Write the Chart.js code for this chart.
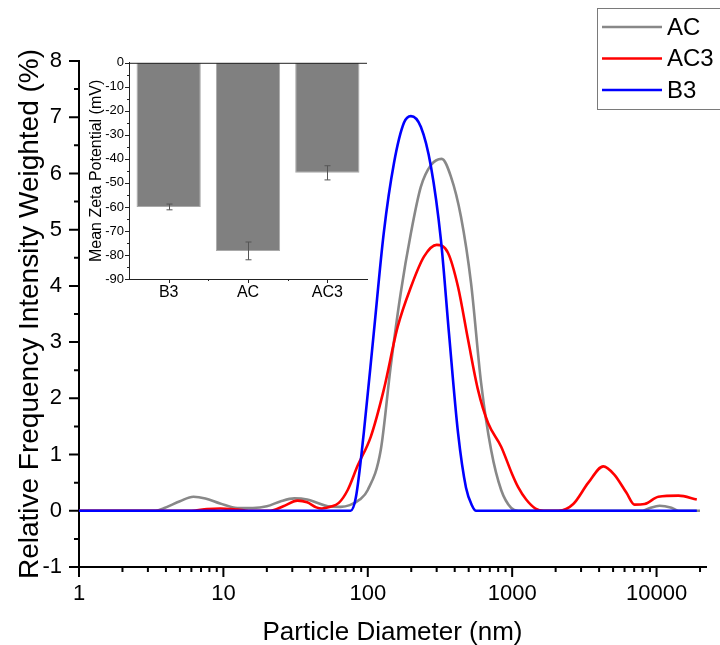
<!DOCTYPE html>
<html lang="en">
<head>
    <meta charset="UTF-8">
    <title>Particle size distribution with zeta potential inset</title>
    <script src="https://cdn.jsdelivr.net/npm/chart.js"></script>
    <style>
        body {
            margin: 0;
            background: #fff;
            font-family: "Liberation Sans", Arial, sans-serif;
        }
        #wrap {
            position: relative;
            width: 720px;
            height: 645px;
        }
        #inset {
            position: absolute;
            left: 70px;
            top: 50px;
        }
    </style>
</head>
<body>
    <div id="wrap">
        <canvas id="sizeChart" width="720" height="645"></canvas>
        <canvas id="inset" width="310" height="260"></canvas>
    </div>

    <script>
        // size distributions (diameter in nm, intensity in %)
        const acSize  = [1, 3.4, 3.9, 5, 6.2, 7.5, 9.5, 12.5, 16, 20, 25, 31, 38, 45, 53, 65, 75, 88, 100, 123, 144, 169, 199, 233, 274, 325, 377, 442, 519, 609, 715, 839, 984, 1100, 8000, 9000, 10500, 12500, 14200, 20000];
        const acValue = [0, 0, 0.05, 0.17, 0.25, 0.22, 0.13, 0.05, 0.05, 0.08, 0.17, 0.22, 0.2, 0.14, 0.08, 0.07, 0.1, 0.2, 0.37, 1.08, 2.56, 3.87, 4.94, 5.76, 6.15, 6.26, 5.94, 5.23, 4.05, 2.28, 1.08, 0.37, 0.05, 0, 0, 0.05, 0.09, 0.06, 0, 0];

        const ac3Size  = [1, 6, 7.7, 9.5, 12.5, 15, 21, 26, 32.6, 38, 44, 48, 55, 63, 72.6, 85, 105, 129, 161, 199, 245, 300, 359, 422, 495, 580, 681, 839, 1000, 1100, 1250, 1450, 1650, 2100, 2650, 3370, 4280, 5110, 6190, 7040, 8260, 10300, 14200, 19000];
        const ac3Value = [0, 0, 0.03, 0.04, 0.02, 0, 0, 0.08, 0.18, 0.15, 0.06, 0.04, 0.07, 0.14, 0.37, 0.8, 1.32, 2.15, 3.27, 3.98, 4.52, 4.73, 4.59, 3.98, 3.04, 2.15, 1.56, 1.14, 0.65, 0.42, 0.2, 0.04, 0, 0, 0.12, 0.5, 0.79, 0.64, 0.32, 0.11, 0.12, 0.25, 0.27, 0.2];

        const b3Size  = [1, 76, 82.6, 93.8, 110, 129, 152, 178, 199, 233, 274, 321, 365, 422, 479, 530, 562, 19000];
        const b3Value = [0, 0, 0.23, 1.38, 3.16, 4.94, 6.19, 6.9, 7.02, 6.83, 6.12, 4.82, 3.16, 1.38, 0.41, 0.08, 0, 0];

        // inset: mean zeta potential (mV)
        const zetaLabels = ['B3', 'AC', 'AC3'];
        const zetaMeans  = [-60, -78.3, -45.8];
        const zetaErrors = [1.2, 3.7, 2.95];

        const FONT = '"Liberation Sans", Arial, sans-serif';

        function points(xs, ys) {
            return xs.map((x, i) => ({ x: x, y: ys[i] }));
        }

        // outward major/minor tick marks for the main plot
        const mainTicks = {
            id: 'mainTicks',
            afterDraw(chart) {
                const ctx = chart.ctx;
                const xs = chart.scales.x, ys = chart.scales.y;
                const area = chart.chartArea;
                ctx.save();
                ctx.strokeStyle = '#000';
                ctx.lineWidth = 2;
                ctx.beginPath();
                for (let v = ys.min; v <= ys.max + 1e-9; v += 0.5) {
                    const len = Number.isInteger(v) ? 10 : 5;
                    const py = ys.getPixelForValue(v);
                    ctx.moveTo(area.left, py);
                    ctx.lineTo(area.left - len, py);
                }
                for (let k = 0; Math.pow(10, k) <= xs.max; k++) {
                    for (let m = 1; m <= 9; m++) {
                        const v = m * Math.pow(10, k);
                        if (v > xs.max) break;
                        const len = m === 1 ? 10 : 5;
                        const px = xs.getPixelForValue(v);
                        ctx.moveTo(px, area.bottom);
                        ctx.lineTo(px, area.bottom + len);
                    }
                }
                ctx.stroke();
                ctx.restore();
            }
        };

        // boxed legend in the top right corner
        const boxLegend = {
            id: 'boxLegend',
            afterDraw(chart) {
                const ctx = chart.ctx;
                ctx.save();
                ctx.strokeStyle = '#7a7a7a';
                ctx.lineWidth = 1;
                ctx.strokeRect(597.5, 8.5, 140, 101);
                ctx.font = '24px ' + FONT;
                ctx.textBaseline = 'middle';
                ctx.fillStyle = '#000';
                chart.data.datasets.forEach((ds, i) => {
                    const y = 27 + i * 31.5;
                    ctx.strokeStyle = ds.borderColor;
                    ctx.lineWidth = 2.5;
                    ctx.beginPath();
                    ctx.moveTo(602, y);
                    ctx.lineTo(662, y);
                    ctx.stroke();
                    ctx.fillText(ds.label, 667, y + 1);
                });
                ctx.restore();
            }
        };

        new Chart(document.getElementById('sizeChart'), {
            type: 'line',
            data: {
                datasets: [
                    { label: 'AC', data: points(acSize, acValue), borderColor: '#888888', order: 3 },
                    { label: 'AC3', data: points(ac3Size, ac3Value), borderColor: '#ff0000', order: 2 },
                    { label: 'B3', data: points(b3Size, b3Value), borderColor: '#0000ff', order: 1 }
                ]
            },
            options: {
                responsive: false,
                animation: false,
                layout: { padding: { top: 61, right: 13, left: 0, bottom: 0 } },
                elements: {
                    point: { radius: 0 },
                    line: { borderWidth: 2.6, cubicInterpolationMode: 'monotone', fill: false }
                },
                plugins: { legend: { display: false }, tooltip: { enabled: false } },
                scales: {
                    x: {
                        type: 'logarithmic',
                        min: 1,
                        max: 22000,
                        afterFit: s => { s.height = 78; },
                        grid: { display: false, drawTicks: false },
                        border: { display: true, color: '#000', width: 2 },
                        ticks: {
                            autoSkip: false,
                            maxRotation: 0,
                            padding: 14,
                            color: '#000',
                            font: { family: FONT, size: 22 },
                            callback: v => {
                                const l = Math.log10(v);
                                return Math.abs(l - Math.round(l)) < 1e-9 ? String(v) : '';
                            }
                        },
                        title: {
                            display: true,
                            text: 'Particle Diameter (nm)',
                            color: '#000',
                            font: { family: FONT, size: 26 },
                            padding: { top: 0, bottom: -3 }
                        }
                    },
                    y: {
                        min: -1,
                        max: 8,
                        afterFit: s => { s.width = 79; },
                        grid: { display: false, drawTicks: false },
                        border: { display: true, color: '#000', width: 2 },
                        ticks: {
                            stepSize: 1,
                            padding: 17,
                            color: '#000',
                            font: { family: FONT, size: 22 }
                        },
                        title: {
                            display: true,
                            text: 'Relative Frequency Intensity Weighted (%)',
                            color: '#000',
                            font: { family: FONT, size: 28 },
                            padding: { top: 13, bottom: 0 }
                        }
                    }
                }
            },
            plugins: [mainTicks, boxLegend]
        });

        // inset decorations: top line, ticks and error bars
        const insetExtras = {
            id: 'insetExtras',
            afterDraw(chart) {
                const ctx = chart.ctx;
                const xs = chart.scales.x, ys = chart.scales.y;
                const area = chart.chartArea;
                ctx.save();
                ctx.strokeStyle = '#222';
                ctx.lineWidth = 1;
                ctx.beginPath();
                ctx.moveTo(area.left, area.top + 0.5);
                ctx.lineTo(area.right, area.top + 0.5);
                for (let v = ys.min; v <= ys.max + 1e-9; v += 5) {
                    const len = v % 10 === 0 ? 4 : 2;
                    const py = Math.round(ys.getPixelForValue(v)) + 0.5;
                    ctx.moveTo(area.left, py);
                    ctx.lineTo(area.left - len, py);
                }
                const n = zetaLabels.length;
                for (let i = 0; i < n; i++) {
                    const px = Math.round(xs.getPixelForValue(i)) + 0.5;
                    ctx.moveTo(px, area.bottom);
                    ctx.lineTo(px, area.bottom + 4);
                    if (i > 0) {
                        const bx = Math.round(xs.getPixelForValue(i - 0.5)) + 0.5;
                        ctx.moveTo(bx, area.bottom);
                        ctx.lineTo(bx, area.bottom + 2);
                    }
                }
                ctx.stroke();

                // error bars
                const meta = chart.getDatasetMeta(0);
                ctx.strokeStyle = '#555';
                ctx.beginPath();
                zetaMeans.forEach((m, i) => {
                    const px = Math.round(meta.data[i].x) + 0.5;
                    const top = ys.getPixelForValue(m + zetaErrors[i]);
                    const bot = ys.getPixelForValue(m - zetaErrors[i]);
                    ctx.moveTo(px, top);
                    ctx.lineTo(px, bot);
                    ctx.moveTo(px - 3, top);
                    ctx.lineTo(px + 3, top);
                    ctx.moveTo(px - 3, bot);
                    ctx.lineTo(px + 3, bot);
                });
                ctx.stroke();
                ctx.restore();
            }
        };

        new Chart(document.getElementById('inset'), {
            type: 'bar',
            data: {
                labels: zetaLabels,
                datasets: [{
                    data: zetaMeans,
                    backgroundColor: '#808080',
                    borderColor: '#a9a9a9',
                    borderWidth: 1,
                    categoryPercentage: 1,
                    barPercentage: 0.81
                }]
            },
            options: {
                responsive: false,
                animation: false,
                layout: { padding: { top: 10, right: 13, left: 0, bottom: 0 } },
                plugins: { legend: { display: false }, tooltip: { enabled: false } },
                scales: {
                    x: {
                        afterFit: s => { s.height = 31; },
                        grid: { display: false, drawTicks: false },
                        border: { display: true, color: '#222', width: 1 },
                        ticks: {
                            padding: 4,
                            color: '#000',
                            font: { family: FONT, size: 16 }
                        }
                    },
                    y: {
                        min: -90,
                        max: 0,
                        afterFit: s => { s.width = 59; },
                        grid: { display: false, drawTicks: false },
                        border: { display: true, color: '#222', width: 1 },
                        ticks: {
                            stepSize: 10,
                            padding: 5,
                            color: '#000',
                            font: { family: FONT, size: 13 }
                        },
                        title: {
                            display: true,
                            text: 'Mean Zeta Potential (mV)',
                            color: '#000',
                            font: { family: FONT, size: 16 },
                            padding: { top: 17, bottom: 0 }
                        }
                    }
                }
            },
            plugins: [insetExtras]
        });
    </script>
</body>
</html>
